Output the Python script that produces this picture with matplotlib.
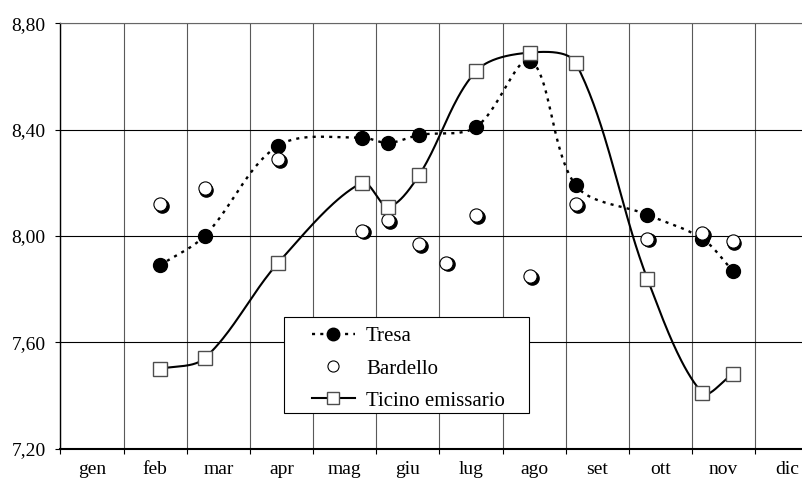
import matplotlib
matplotlib.use('Agg')
import matplotlib.pyplot as plt
import numpy as np
from matplotlib.lines import Line2D
from matplotlib.patches import Rectangle
from matplotlib.transforms import offset_copy

plt.rcParams['font.family'] = ['Liberation Serif', 'DejaVu Serif']

# mesi sull'asse x, posizioni dei campionamenti in frazioni di mese
mesi = ['gen', 'feb', 'mar', 'apr', 'mag', 'giu', 'lug', 'ago', 'set', 'ott', 'nov', 'dic']
x_tresa = [1.575, 2.28, 3.45, 4.77, 5.19, 5.68, 6.58, 7.44, 8.16, 9.29, 10.16, 10.64]
tresa = [7.89, 8.00, 8.34, 8.37, 8.35, 8.38, 8.41, 8.66, 8.19, 8.08, 7.99, 7.87]
x_bardello = [1.575, 2.28, 3.45, 4.77, 5.19, 5.68, 6.10, 6.58, 7.44, 8.16, 9.29, 10.16, 10.64]
bardello = [8.12, 8.18, 8.29, 8.02, 8.06, 7.97, 7.90, 8.08, 7.85, 8.12, 7.99, 8.01, 7.98]
x_ticino = [1.575, 2.28, 3.45, 4.77, 5.19, 5.68, 6.58, 7.44, 8.16, 9.29, 10.16, 10.64]
ticino = [7.50, 7.54, 7.90, 8.20, 8.11, 8.23, 8.62, 8.69, 8.65, 7.84, 7.41, 7.48]
y_ticks = [7.20, 7.60, 8.00, 8.40, 8.80]


def smussa(x, y, sx=63.16, sy=265.9, n=40):
    # linea smussata: Bezier con tangenti pesate sulla lunghezza dei tratti (scala pixel)
    p = np.column_stack([np.asarray(x) * sx, np.asarray(y) * sy])
    ext = np.vstack([p[0], p, p[-1]])
    t = np.linspace(0, 1, n)[:, None]
    pezzi = []
    for i in range(len(p) - 1):
        a, p0, p3, b = ext[i], ext[i + 1], ext[i + 2], ext[i + 3]
        d0 = np.hypot(*(p0 - a))
        d1 = np.hypot(*(p3 - p0))
        d2 = np.hypot(*(b - p3))
        c1 = p0 + (p3 - a) * d1 / (d0 + d1) / 3
        c2 = p3 - (b - p0) * d1 / (d1 + d2) / 3
        seg = (1 - t) ** 3 * p0 + 3 * (1 - t) ** 2 * t * c1 + 3 * (1 - t) * t ** 2 * c2 + t ** 3 * p3
        pezzi.append(seg if i == 0 else seg[1:])
    out = np.vstack(pezzi)
    return out[:, 0] / sx, out[:, 1] / sy


fig = plt.figure(figsize=(8.03, 4.79), dpi=100)
ax = fig.add_axes([60.5 / 803, 30.3 / 479, 757.9 / 803, 425.4 / 479])

puntini = (0, (1.3, 2.2))

# Tresa
xs, ys = smussa(x_tresa, tresa)
ax.plot(xs, ys, color='black', lw=1.7, linestyle=puntini, zorder=3)
ax.plot(x_tresa, tresa, 'o', ms=10, mfc='black', mec='black', zorder=4)

# Bardello, con ombra
ombra = offset_copy(ax.transData, fig=fig, x=1.8, y=-1.8, units='dots')
ax.plot(x_bardello, bardello, 'o', ms=9.5, mfc='black', mec='black', transform=ombra, zorder=5)
ax.plot(x_bardello, bardello, 'o', ms=9.5, mfc='white', mec='black', mew=0.8, zorder=5)

# Ticino emissario
xs, ys = smussa(x_ticino, ticino)
ax.plot(xs, ys, color='black', lw=1.5, zorder=6)
ax.plot(x_ticino, ticino, 's', ms=10, mfc='white', mec='0.3', mew=1, zorder=7)

ax.set_xlim(0, 12)
ax.set_ylim(7.2, 8.8)
ax.set_xticks(range(13))
ax.set_xticklabels([])
ax.set_xticks(np.arange(12) + 0.5, minor=True)
ax.set_xticklabels(mesi, minor=True)
ax.set_yticks(y_ticks)
ax.set_yticklabels([f'{v:.2f}'.replace('.', ',') for v in y_ticks])
ax.tick_params(axis='x', which='major', direction='out', length=3.6, width=0.8)
ax.tick_params(axis='x', which='minor', length=0, pad=9, labelsize=14)
ax.tick_params(axis='y', direction='out', length=3.6, width=0.8, pad=7, labelsize=14)

ax.set_axisbelow(True)
ax.grid(axis='x', which='major', color='0.35', lw=0.8)
ax.grid(axis='y', color='black', lw=0.8)
ax.spines['top'].set_color('0.4')
ax.spines['top'].set_linewidth(0.8)
ax.spines['right'].set_visible(False)
ax.spines['left'].set_linewidth(1.0)
ax.spines['bottom'].set_linewidth(1.5)

# legenda con riquadro bianco
ax.add_patch(Rectangle((0.2949, 0.0846), 0.3237, 0.2257, transform=ax.transAxes,
                       facecolor='white', edgecolor='black', lw=0.8, zorder=8))
maniglie = [
    Line2D([], [], color='black', lw=1.7, linestyle=puntini, marker='o', ms=9, mfc='black', mec='black'),
    Line2D([], [], linestyle='none', marker='o', ms=8, mfc='white', mec='black', mew=0.8),
    Line2D([], [], color='black', lw=1.5, marker='s', ms=9, mfc='white', mec='0.3'),
]
leg = ax.legend(maniglie, ['Tresa', 'Bardello', 'Ticino emissario'], loc='upper left',
                bbox_to_anchor=(0.3315, 0.2863), frameon=False, fontsize=15,
                handlelength=2.07, handletextpad=0.53, labelspacing=0.6,
                borderpad=0, borderaxespad=0)
leg.set_zorder(9)

fig.savefig('out.png', dpi=100)
